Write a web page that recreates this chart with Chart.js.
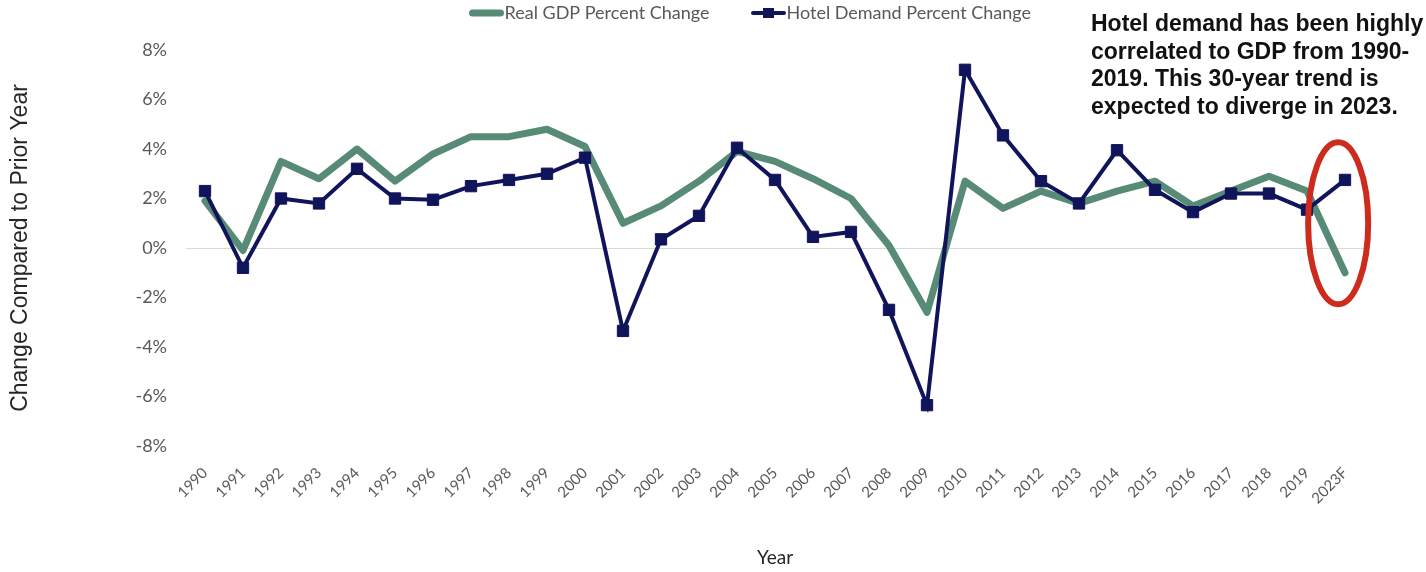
<!DOCTYPE html>
<html>
<head>
<meta charset="utf-8">
<script src="https://cdn.jsdelivr.net/npm/chart.js@4.4.1/dist/chart.umd.min.js"></script>
<style>
  html, body { margin: 0; padding: 0; background: #ffffff; }
  #wrap { position: relative; width: 1426px; height: 572px; }
  canvas { display: block; }
</style>
</head>
<body>
<div id="wrap"><canvas id="chart" width="1426" height="572"></canvas></div>
<script>
// ---- data ----
const categories = ['1990','1991','1992','1993','1994','1995','1996','1997','1998','1999',
  '2000','2001','2002','2003','2004','2005','2006','2007','2008','2009',
  '2010','2011','2012','2013','2014','2015','2016','2017','2018','2019','2023F'];
const gdpChange = [1.9, -0.1, 3.5, 2.8, 4.0, 2.7, 3.8, 4.5, 4.5, 4.8,
  4.1, 1.0, 1.7, 2.7, 3.9, 3.5, 2.8, 2.0, 0.1, -2.6,
  2.7, 1.6, 2.3, 1.8, 2.3, 2.7, 1.7, 2.3, 2.9, 2.3, -1.0];
const hotelDemandChange = [2.3, -0.8, 2.0, 1.8, 3.2, 2.0, 1.95, 2.5, 2.75, 3.0,
  3.65, -3.35, 0.35, 1.3, 4.05, 2.75, 0.45, 0.65, -2.5, -6.35,
  7.2, 4.55, 2.7, 1.8, 3.95, 2.35, 1.45, 2.2, 2.2, 1.55, 2.75];
const yTickValues = [-8, -6, -4, -2, 0, 2, 4, 6, 8];
const seriesLabels = ['Real GDP Percent Change', 'Hotel Demand Percent Change'];
const xAxisTitle = 'Year';
const yAxisTitle = 'Change Compared to Prior Year';
const noteLines = ['Hotel demand has been highly', 'correlated to GDP from 1990-',
  '2019. This 30-year trend is', 'expected to diverge in 2023.'];

// ---- styles ----
const GREEN = '#588b76';
const NAVY = '#10145a';
const TICK_GRAY = '#595959';
const RED = '#cc2b1d';

function makeMarker(color, lineW, square) {
  const c = document.createElement('canvas');
  c.width = 35; c.height = 14;
  const g = c.getContext('2d');
  g.strokeStyle = color; g.lineWidth = lineW; g.lineCap = 'round';
  g.beginPath(); g.moveTo(lineW / 2, 7); g.lineTo(35 - lineW / 2, 7); g.stroke();
  if (square) { g.fillStyle = color; g.fillRect(12, 2, 11, 10); }
  return c;
}
const legendMarkers = [makeMarker(GREEN, 7, false), makeMarker(NAVY, 4, true)];

const LEGEND_PAD = 50;      // horizontal gap between legend items
const LEGEND_GAP = 18;      // extra space between legend and plot
const LEGEND_START = 469;   // left edge of first legend marker

const notePlugin = {
  id: 'notePlugin',
  beforeLayout(chart) {
    const lg = chart.legend;
    if (lg && !lg._gapPatched) {
      const origFit = lg.fit;
      lg.fit = function () { origFit.call(this); if (this.isHorizontal()) this.height += LEGEND_GAP; };
      lg._gapPatched = true;
    }
  },
  afterLayout(chart) {
    const lg = chart.legend;
    if (lg) { lg.left = LEGEND_START + 8.5 - LEGEND_PAD; lg.right = lg.left + 1000; }
  },
  afterDraw(chart) {
    const ctx = chart.ctx;
    const xs = chart.scales.x, ys = chart.scales.y;
    // annotation text
    ctx.save();
    ctx.fillStyle = '#111111';
    ctx.font = 'bold 23px "Liberation Sans", Arial, sans-serif';
    ctx.textAlign = 'left';
    ctx.textBaseline = 'alphabetic';
    noteLines.forEach((t, i) => ctx.fillText(t, 1091, 31 + i * 27.7));
    // highlight ellipse around forecast year
    const last = categories.length - 1;
    const step = xs.getPixelForValue(1) - xs.getPixelForValue(0);
    const cx = xs.getPixelForValue(last) - step * 0.18;
    const cy = ys.getPixelForValue(1.0);
    const ry = Math.abs(ys.getPixelForValue(1.0 + 3.27) - cy);
    const rx = step * 0.79;
    ctx.strokeStyle = RED;
    ctx.lineWidth = 6;
    ctx.beginPath();
    ctx.ellipse(cx, cy, rx, ry, 0, 0, Math.PI * 2);
    ctx.stroke();
    ctx.restore();
  }
};

new Chart(document.getElementById('chart'), {
  type: 'line',
  data: {
    labels: categories,
    datasets: [
      { label: seriesLabels[0], data: gdpChange, borderColor: GREEN, backgroundColor: GREEN,
        borderWidth: 7, pointRadius: 0, pointHoverRadius: 0, tension: 0, order: 1,
        borderJoinStyle: 'round', borderCapStyle: 'round' },
      { label: seriesLabels[1], data: hotelDemandChange, borderColor: NAVY, backgroundColor: NAVY,
        borderWidth: 4, pointStyle: 'rect', pointRadius: 8, pointBorderWidth: 1,
        pointBackgroundColor: NAVY, pointBorderColor: NAVY, tension: 0, order: 0,
        borderJoinStyle: 'miter' }
    ]
  },
  options: {
    responsive: false,
    devicePixelRatio: 1,
    animation: false,
    layout: { padding: { top: 4 - LEGEND_PAD, left: 0, right: 62, bottom: 0 } },
    plugins: {
      tooltip: { enabled: false },
      legend: {
        position: 'top',
        align: 'start',
        labels: {
          usePointStyle: true,
          pointStyleWidth: 18,
          padding: LEGEND_PAD,
          color: TICK_GRAY,
          font: { family: 'Lato', size: 18 },
          sort: (a, b) => a.datasetIndex - b.datasetIndex,
          generateLabels(chart) {
            const items = Chart.defaults.plugins.legend.labels.generateLabels(chart);
            items.forEach(it => { it.pointStyle = legendMarkers[it.datasetIndex]; it.fontColor = TICK_GRAY; });
            return items;
          }
        }
      }
    },
    scales: {
      x: {
        offset: true,
        grid: { display: false, drawTicks: false },
        border: { display: false },
        ticks: { color: TICK_GRAY, font: { family: 'Lato', size: 15 }, minRotation: 45, maxRotation: 45,
          padding: 18, autoSkip: false },
        title: { display: true, text: xAxisTitle, color: '#262626',
          font: { family: 'Lato', size: 19 }, padding: { top: 0, bottom: 3 } },
        afterFit(s) { s.height = 126; }
      },
      y: {
        min: -8, max: 8,
        afterBuildTicks(s) { s.ticks = yTickValues.map(v => ({ value: v })); },
        grid: { color: c => (c.tick && c.tick.value === 0 ? '#d9d9d9' : 'rgba(0,0,0,0)'), lineWidth: 1, drawTicks: false },
        border: { display: false },
        ticks: { color: TICK_GRAY, font: { family: 'Lato', size: 18 }, padding: 19, callback: v => v + '%' },
        title: { display: true, text: yAxisTitle, color: '#262626',
          font: { family: 'Liberation Sans', size: 23 }, padding: { top: 7, bottom: 0 } },
        afterFit(s) { s.width = 186; }
      }
    }
  },
  plugins: [notePlugin]
});
</script>
</body>
</html>
